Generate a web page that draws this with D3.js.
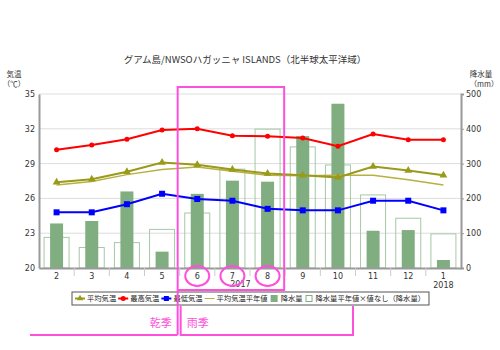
<!DOCTYPE html>
<html>
<head>
<meta charset="utf-8">
<script src="https://cdn.jsdelivr.net/npm/d3@7/dist/d3.min.js"></script>
<style>
  body { margin: 0; background: #fff; }
  svg { display: block; font-family: "Noto Sans CJK JP", "DejaVu Sans", sans-serif; }
</style>
</head>
<body>
<svg id="chart" width="500" height="350"></svg>
<script>
// data
var months   = ['2', '3', '4', '5', '6', '7', '8', '9', '10', '11', '12', '1'];
var tAvg     = [27.4, 27.65, 28.3, 29.1, 28.9, 28.5, 28.15, 28.0, 27.8, 28.75, 28.4, 28.0];
var tMax     = [30.2, 30.6, 31.1, 31.9, 32.0, 31.4, 31.35, 31.2, 30.5, 31.55, 31.05, 31.05];
var tMin     = [24.8, 24.8, 25.5, 26.4, 25.95, 25.8, 25.1, 24.97, 24.97, 25.8, 25.8, 24.97];
var tAvgNorm = [27.15, 27.45, 28.05, 28.5, 28.7, 28.35, 28.0, 27.95, 28.0, 28.0, 27.6, 27.15];
var rain     = [128, 135, 220, 47, 213, 251, 248, 379, 472, 107, 109, 23];
var rainNorm = [88, 59, 73, 111, 158, 284, 399, 348, 296, 210, 143, 98];
var tTicks   = [20, 23, 26, 29, 32, 35];
var rTicks   = [0, 100, 200, 300, 400, 500];

var svg = d3.select('#chart');
var m = { left: 39, right: 461, top: 94, bottom: 268 };

var x = d3.scaleBand().domain(months).range([m.left, m.right]);
var yT = d3.scaleLinear().domain([20, 35]).range([m.bottom, m.top]);
var yR = d3.scaleLinear().domain([0, 500]).range([m.bottom, m.top]);
var cx = function(i) { return x(months[i]) + x.bandwidth() / 2; };

var olive = '#9a9a1a', oliveLight = '#b8b040', pink = '#ff50dc';

// title
svg.append('text').attr('x', 245).attr('y', 63).attr('text-anchor', 'middle')
  .attr('font-size', 9.5).attr('fill', '#333')
  .text('グアム島/NWSOハガッニャ ISLANDS（北半球太平洋域）');

// axis captions
svg.append('text').attr('x', 14).attr('y', 77).attr('text-anchor', 'middle').attr('font-size', 7.5).attr('fill', '#333').text('気温');
svg.append('text').attr('x', 14).attr('y', 87).attr('text-anchor', 'middle').attr('font-size', 7.5).attr('fill', '#333').text('（℃）');
svg.append('text').attr('x', 481).attr('y', 77).attr('text-anchor', 'middle').attr('font-size', 7.5).attr('fill', '#333').text('降水量');
svg.append('text').attr('x', 484).attr('y', 87).attr('text-anchor', 'middle').attr('font-size', 7.5).attr('fill', '#333').text('（mm）');

// grid
svg.append('g').selectAll('line').data(tTicks.slice(1)).enter().append('line')
  .attr('x1', m.left).attr('x2', m.right)
  .attr('y1', function(d) { return yT(d); }).attr('y2', function(d) { return yT(d); })
  .attr('stroke', '#ddd').attr('stroke-width', 1);

// rain normal (outlined)
svg.append('g').selectAll('rect').data(rainNorm).enter().append('rect')
  .attr('x', function(d, i) { return cx(i) - 12.5; })
  .attr('width', 25)
  .attr('y', function(d) { return yR(d); })
  .attr('height', function(d) { return m.bottom - yR(d); })
  .attr('fill', 'none').attr('stroke', '#a6c8a6').attr('stroke-width', 1);

// rain (filled)
svg.append('g').selectAll('rect').data(rain).enter().append('rect')
  .attr('x', function(d, i) { return cx(i) - 6.5; })
  .attr('width', 13)
  .attr('y', function(d) { return yR(d); })
  .attr('height', function(d) { return m.bottom - yR(d); })
  .attr('fill', '#80ae80');

var line = function(vals) {
  return d3.line().x(function(d, i) { return cx(i); }).y(function(d) { return yT(d); })(vals);
};

svg.append('path').attr('d', line(tAvgNorm)).attr('fill', 'none').attr('stroke', oliveLight).attr('stroke-width', 1.5);
svg.append('path').attr('d', line(tAvg)).attr('fill', 'none').attr('stroke', olive).attr('stroke-width', 2);
svg.append('path').attr('d', line(tMax)).attr('fill', 'none').attr('stroke', '#ff0000').attr('stroke-width', 2);
svg.append('path').attr('d', line(tMin)).attr('fill', 'none').attr('stroke', '#0000ff').attr('stroke-width', 2);

svg.append('g').selectAll('path').data(tAvg).enter().append('path')
  .attr('d', d3.symbol().type(d3.symbolTriangle).size(26))
  .attr('transform', function(d, i) { return 'translate(' + cx(i) + ',' + yT(d) + ')'; })
  .attr('fill', olive);
svg.append('g').selectAll('circle').data(tMax).enter().append('circle')
  .attr('cx', function(d, i) { return cx(i); }).attr('cy', function(d) { return yT(d); })
  .attr('r', 2.5).attr('fill', '#ff0000');
svg.append('g').selectAll('rect').data(tMin).enter().append('rect')
  .attr('x', function(d, i) { return cx(i) - 3; }).attr('y', function(d) { return yT(d) - 3; })
  .attr('width', 6).attr('height', 6).attr('fill', '#0000ff');

// axes
var axisL = d3.axisLeft(yT).tickValues(tTicks).tickSize(0).tickPadding(4);
var gL = svg.append('g').attr('transform', 'translate(' + m.left + ',0)').call(axisL);
var axisR = d3.axisRight(yR).tickValues(rTicks).tickSize(3).tickPadding(2);
var gR = svg.append('g').attr('transform', 'translate(' + m.right + ',0)').call(axisR);
var axisB = d3.axisBottom(x).tickSize(0).tickPadding(5);
var gB = svg.append('g').attr('transform', 'translate(0,' + m.bottom + ')').call(axisB);
[gL, gR, gB].forEach(function(g) {
  g.select('.domain').attr('stroke', '#999').attr('stroke-width', 2);
  g.selectAll('.tick line').attr('stroke', '#999');
  g.selectAll('text').attr('font-size', 8).attr('fill', '#333').attr('font-family', 'DejaVu Sans, sans-serif');
});
// category separators
svg.append('g').selectAll('line').data(months.slice(1)).enter().append('line')
  .attr('x1', function(d) { return x(d); }).attr('x2', function(d) { return x(d); })
  .attr('y1', m.bottom).attr('y2', m.bottom + 8).attr('stroke', '#ccc');
svg.append('text').attr('x', cx(5) + 8).attr('y', 287).attr('text-anchor', 'middle')
  .attr('font-size', 8).attr('fill', '#333').attr('font-family', 'DejaVu Sans, sans-serif').text('2017');
svg.append('text').attr('x', cx(11)).attr('y', 288).attr('text-anchor', 'middle')
  .attr('font-size', 8).attr('fill', '#333').attr('font-family', 'DejaVu Sans, sans-serif').text('2018');

// legend
var legend = svg.append('g');
var items = [
  { label: '平均気温', type: 'tri' },
  { label: '最高気温', type: 'dot' },
  { label: '最低気温', type: 'sq' },
  { label: '平均気温平年値', type: 'thin' },
  { label: '降水量', type: 'fill' },
  { label: '降水量平年値×値なし（降水量）', type: 'open' }
];
var lx = 75, ly = 298.5;
var box = legend.append('rect').attr('y', 292).attr('height', 13)
  .attr('fill', '#fff').attr('stroke', '#555').attr('stroke-width', 1);
items.forEach(function(it) {
  if (it.type === 'tri' || it.type === 'dot' || it.type === 'sq' || it.type === 'thin') {
    var col = it.type === 'tri' ? olive : it.type === 'dot' ? '#ff0000' : it.type === 'sq' ? '#0000ff' : oliveLight;
    legend.append('line').attr('x1', lx).attr('x2', lx + 10).attr('y1', ly).attr('y2', ly)
      .attr('stroke', col).attr('stroke-width', it.type === 'thin' ? 1 : 2);
    if (it.type === 'tri') legend.append('path').attr('d', d3.symbol().type(d3.symbolTriangle).size(18)())
      .attr('transform', 'translate(' + (lx + 5) + ',' + ly + ')').attr('fill', col);
    if (it.type === 'dot') legend.append('circle').attr('cx', lx + 5).attr('cy', ly).attr('r', 2.5).attr('fill', col);
    if (it.type === 'sq') legend.append('rect').attr('x', lx + 2.5).attr('y', ly - 2.5).attr('width', 5).attr('height', 5).attr('fill', col);
    lx += 12;
  } else if (it.type === 'fill') {
    legend.append('rect').attr('x', lx + 1).attr('y', ly - 3.5).attr('width', 7).attr('height', 7).attr('fill', '#80ae80');
    lx += 11;
  } else {
    legend.append('rect').attr('x', lx + 1.5).attr('y', ly - 3).attr('width', 6).attr('height', 6)
      .attr('fill', 'none').attr('stroke', '#80ae80');
    lx += 11;
  }
  var t = legend.append('text').attr('x', lx).attr('y', ly + 2.7).attr('font-size', 7.3).attr('fill', '#222').text(it.label);
  lx += t.node().getComputedTextLength() + 2;
});
box.attr('x', 72).attr('width', lx - 72 + 2);

// pink annotations
var pxL = x('6') - 2, pxR = x('8') + x.bandwidth() - 1;
var ann = svg.append('g').attr('fill', 'none').attr('stroke', pink).attr('stroke-width', 2);
ann.append('path').attr('d', 'M' + pxL + ',335 V87 H' + pxR + ' V290 H' + pxL);
ann.append('path').attr('d', 'M30,335 H' + pxL);
ann.append('path').attr('d', 'M' + (pxL + 3) + ',306 V335 H353 V306');
[4, 5, 6].forEach(function(i) {
  ann.append('ellipse').attr('cx', cx(i)).attr('cy', 276).attr('rx', 12).attr('ry', 10);
});
svg.append('text').attr('x', pxL - 6).attr('y', 327).attr('text-anchor', 'end')
  .attr('font-size', 11).attr('fill', pink).text('乾季');
svg.append('text').attr('x', pxL + 9).attr('y', 327)
  .attr('font-size', 11).attr('fill', pink).text('雨季');
</script>
</body>
</html>
